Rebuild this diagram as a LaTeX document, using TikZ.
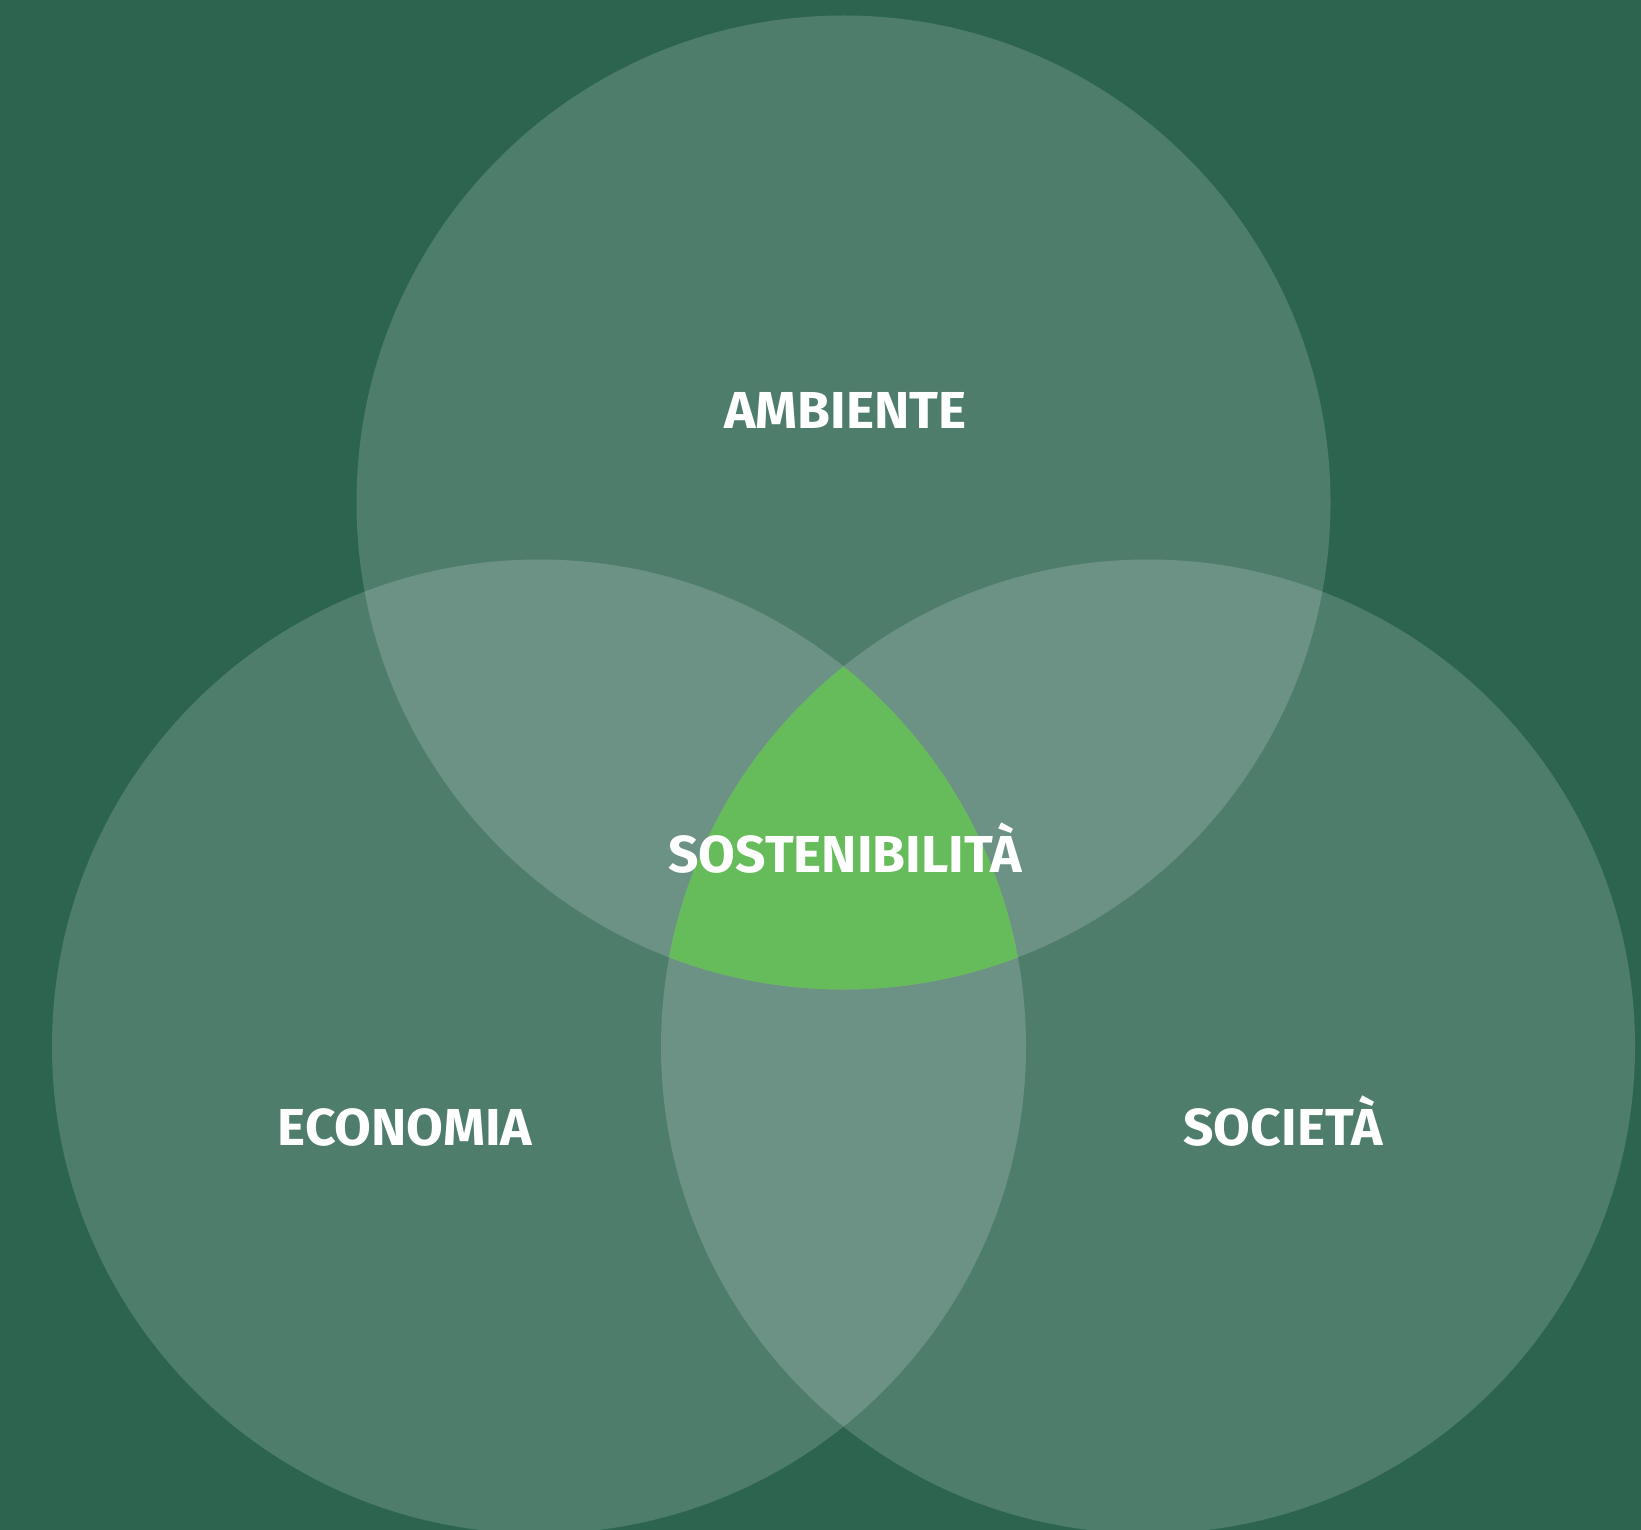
\documentclass[tikz,border=0pt]{standalone}
\usepackage{fontspec}
\setmainfont{Fira Sans}[FakeStretch=1.025]
\definecolor{bggreen}{HTML}{2D6450}
\definecolor{coregreen}{HTML}{66BB5A}
\begin{document}
\begin{tikzpicture}[x=1pt,y=-1pt,
  ring/.style={fill=white,fill opacity=0.165},
  lbl/.style={text=white,font=\bfseries\fontsize{52}{60}\selectfont,anchor=base,inner sep=0pt}]
\fill[bggreen] (0,0) rectangle (1641,1530);
\useasboundingbox (0,0) rectangle (1641,1530);
\coordinate (ca) at (843.5,502.5);
\coordinate (ce) at (539,1046.5);
\coordinate (cs) at (1148,1046.5);
\fill[ring] (ca) circle[radius=487];
\fill[ring] (ce) circle[radius=487];
\fill[ring] (cs) circle[radius=487];
\begin{scope}
  \clip (ca) circle[radius=487];
  \clip (ce) circle[radius=487];
  \fill[coregreen] (cs) circle[radius=487];
\end{scope}
\node[lbl] (amb) at (845.5,428) {AMBIENTE};
\node[lbl] (sos) at (845,872) {SOSTENIBILITÀ};
\node[lbl] (eco) at (405,1145) {ECONOMIA};
\node[lbl] (soc) at (1283,1145) {SOCIETÀ};
\end{tikzpicture}
\end{document}
